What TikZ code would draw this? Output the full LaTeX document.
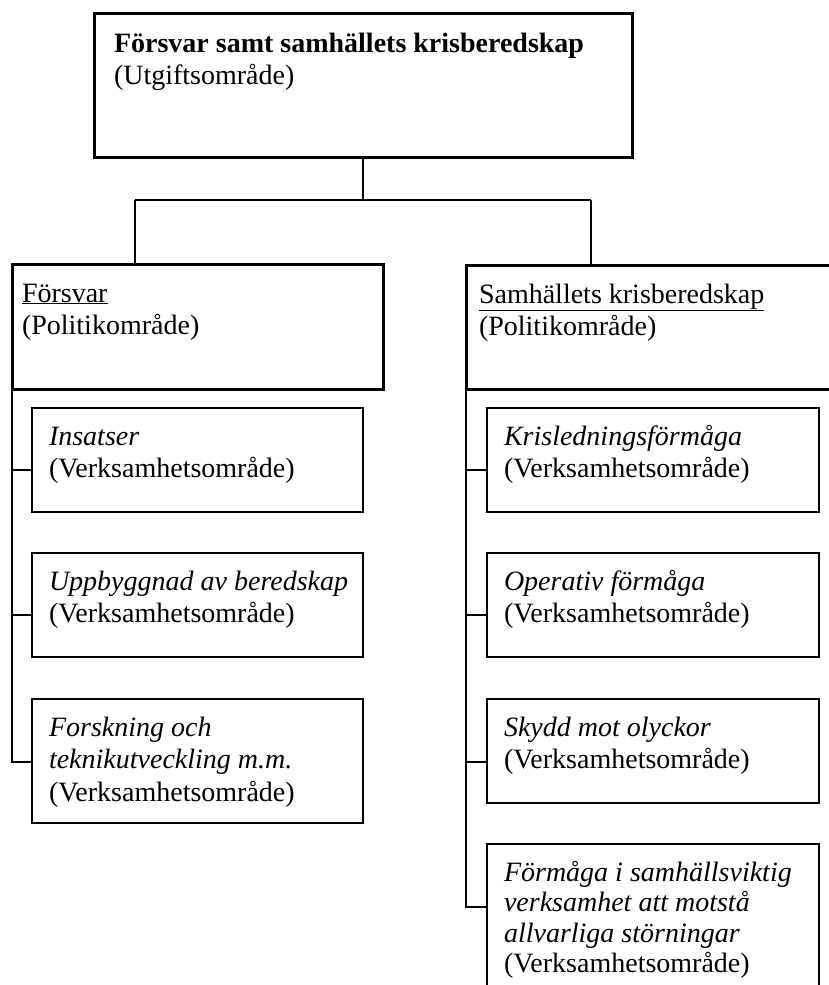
\documentclass[tikz,border=0pt]{standalone}
\usepackage{fontspec}
\setmainfont{Liberation Serif}
\newcommand{\firstline}{\rule{0pt}{26pt}}
\begin{document}
\begin{tikzpicture}[x=1pt,y=-1pt,
  bigbox/.style={draw, line width=3pt, inner sep=0pt, outer sep=0pt, anchor=north west},
  smallbox/.style={draw, line width=1.5pt, inner sep=0pt, outer sep=0pt, anchor=north west, minimum height=104pt},
  lboxw/.style={minimum width=331pt},
  rboxw/.style={minimum width=332pt},
  lbl/.style={anchor=north west, inner sep=0pt, outer sep=0pt, align=left, font=\fontsize{28}{32.5}\selectfont},
  conn/.style={line width=1.5pt}]
\useasboundingbox (0,0) rectangle (829,985);
\clip (0,0) rectangle (829,985);

% top level
\node[bigbox, minimum width=538pt, minimum height=144pt] (top) at (94,13) {};
\node[lbl] (toptxt) at (114,26) {\firstline\textbf{Försvar samt samhällets krisberedskap}\\(Utgiftsområde)};

% policy areas
\node[bigbox, minimum width=371pt, minimum height=125pt] (fors) at (12,264) {};
\node[lbl] (forstxt) at (22,276) {\firstline\underline{Försvar}\\(Politikområde)};
\node[bigbox, minimum width=420pt, minimum height=124pt] (samh) at (466,265) {};
\node[lbl] (samhtxt) at (479,277) {\firstline\underline{Samhällets krisberedskap}\\(Politikområde)};

% left children
\node[smallbox, lboxw] (ins) at (32,408) {};
\node[lbl] (instxt) at (49,419) {\firstline\textit{Insatser}\\(Verksamhetsområde)};
\node[smallbox, lboxw] (upp) at (32,553) {};
\node[lbl] (upptxt) at (49,564) {\firstline\textit{Uppbyggnad av beredskap}\\(Verksamhetsområde)};
\node[smallbox, lboxw, minimum height=124pt] (fft) at (32,699) {};
\node[lbl] (ffttxt) at (49,710) {\firstline\textit{Forskning och}\\\textit{teknikutveckling m.m.}\\(Verksamhetsområde)};

% right children
\node[smallbox, rboxw] (kris) at (487,408) {};
\node[lbl] (kristxt) at (504,419) {\firstline\textit{Krisledningsförmåga}\\(Verksamhetsområde)};
\node[smallbox, rboxw] (oper) at (487,553) {};
\node[lbl] (opertxt) at (504,564) {\firstline\textit{Operativ förmåga}\\(Verksamhetsområde)};
\node[smallbox, rboxw] (skydd) at (487,699) {};
\node[lbl] (skyddtxt) at (504,710) {\firstline\textit{Skydd mot olyckor}\\(Verksamhetsområde)};
\node[smallbox, rboxw, minimum height=200pt] (form) at (487,844) {};
\node[lbl, font=\fontsize{28}{30.5}\selectfont] (formtxt) at (504,855) {\firstline\textit{Förmåga i samhällsviktig}\\\textit{verksamhet att motstå}\\\textit{allvarliga störningar}\\(Verksamhetsområde)};

% connection points
\coordinate (jm) at (363,200);
\coordinate (jl) at (135,200);
\coordinate (jr) at (591,200);
\coordinate (insc) at ([yshift=-62pt]ins.north west);
\coordinate (uppc) at ([yshift=-62pt]upp.north west);
\coordinate (fftc) at ([yshift=-63pt]fft.north west);
\coordinate (krisc) at ([yshift=-62pt]kris.north west);
\coordinate (operc) at ([yshift=-62pt]oper.north west);
\coordinate (skyddc) at ([yshift=-63pt]skydd.north west);
\coordinate (formc) at ([yshift=-63pt]form.north west);

% connectors top
\draw[conn] (top.south) -- (jm);
\draw[conn] (jl) -- (jr);
\draw[conn] (jl) -- (jl |- fors.north);
\draw[conn] (jr) -- (jr |- samh.north);

% left tree
\draw[conn] (fors.south west) -- (fors.south west |- fftc) -- (fftc);
\draw[conn] (fors.south west |- insc) -- (insc);
\draw[conn] (fors.south west |- uppc) -- (uppc);

% right tree
\draw[conn] (samh.south west) -- (samh.south west |- formc) -- (formc);
\draw[conn] (samh.south west |- krisc) -- (krisc);
\draw[conn] (samh.south west |- operc) -- (operc);
\draw[conn] (samh.south west |- skyddc) -- (skyddc);
\end{tikzpicture}
\end{document}
